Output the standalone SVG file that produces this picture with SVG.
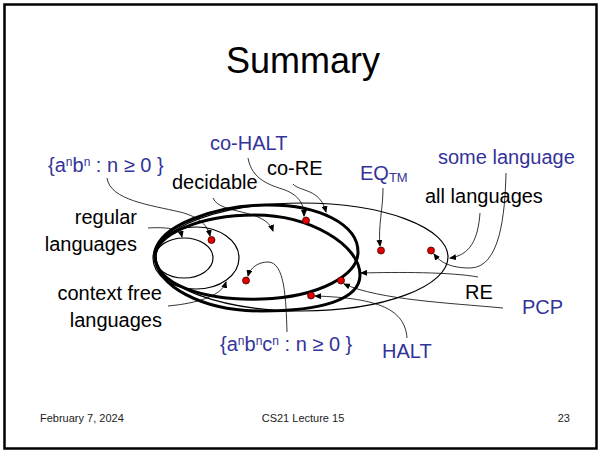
<svg xmlns="http://www.w3.org/2000/svg" width="601" height="452" viewBox="0 0 601 452">
<defs>
<marker id="arr" markerWidth="7" markerHeight="6" refX="6" refY="3" orient="auto" markerUnits="userSpaceOnUse">
<path d="M0,0 L7,3 L0,6 Z" fill="#000"/>
</marker>
<style>
text{font-family:"Liberation Sans",Arial,sans-serif;}
.lbl{font-size:20px;fill:#000;}
.blue{font-size:20px;fill:#333399;}
.foot{font-size:11px;fill:#222;}
.set{fill:none;stroke:#000;}
.thin{stroke-width:1.2;}
.thick{stroke-width:3;}
.dot{fill:#e00000;stroke:#400;stroke-width:0.8;}
.con{fill:none;stroke:#000;stroke-width:0.8;marker-end:url(#arr);}
</style>
</defs>
<rect x="0" y="0" width="601" height="452" fill="#fff"/>
<rect x="4.5" y="4.5" width="592" height="444" fill="none" stroke="#000" stroke-width="2.5"/>
<text x="303" y="73" text-anchor="middle" style="font-size:36px">Summary</text>

<g id="all-languages">
<ellipse class="set thin" cx="302" cy="257" rx="146" ry="54"/>
</g>
<g id="co-RE">
<path class="set thick" d="M155,252 C160,225 215,206 265,205 C320,204 358,225 358,252 C358,275 320,297 262,299 C205,301 152,285 155,252 Z"/>
</g>
<g id="RE">
<path class="set thick" d="M155,258 C153,235 200,215 255,215 C310,215 360,245 360,275 C360,300 320,311 262,311 C200,311 157,285 155,258 Z"/>
</g>
<g id="context-free">
<ellipse class="set thin" cx="196" cy="258" rx="43" ry="31"/>
</g>
<g id="regular">
<ellipse class="set thin" cx="184" cy="258" rx="29" ry="20"/>
</g>

<g id="connectors">
<path class="con" d="M107,178 C110,200 150,205 180,212 C200,217 208,226 210,236"/>
<path class="con" d="M248,158 C252,180 270,185 285,190 C300,196 304,205 304,216"/>
<path class="con" d="M293,184 C300,192 320,188 326,212"/>
<path class="con" d="M213,198 C220,215 265,208 273,231"/>
<path class="con" d="M148,228 C165,227 180,228 182,237"/>
<path class="con" d="M168,306 C200,303 222,295 226,282"/>
<path class="con" d="M287,332 C286,300 285,262 268,262 C258,262 250,268 248,276"/>
<path class="con" d="M383,188 C383,210 378,225 380,246"/>
<path class="con" d="M480,213 C478,240 470,255 450,258"/>
<path class="con" d="M506,173 C505,215 500,268 470,268 C450,268 440,262 434,254"/>
<path class="con" d="M478,277 C450,272 400,272 361,273"/>
<path class="con" d="M503,308 C450,303 380,300 344,284"/>
<path class="con" d="M407,338 C405,310 380,298 315,296"/>
</g>

<g id="anbn"><circle class="dot" cx="211.5" cy="240" r="3.5"/>
<text class="blue" x="48" y="172">{a<tspan style="font-size:12px" dy="-6">n</tspan><tspan dy="6">b</tspan><tspan style="font-size:12px" dy="-6">n</tspan><tspan dy="6"> : n ≥ 0 }</tspan></text></g>
<g id="co-HALT"><circle class="dot" cx="306" cy="220.5" r="3.5"/>
<text class="blue" x="210" y="150">co-HALT</text></g>
<g id="EQTM"><circle class="dot" cx="381" cy="250.5" r="3.5"/>
<text class="blue" x="360" y="180">EQ<tspan style="font-size:13px" dy="2">TM</tspan></text></g>
<g id="some-language"><circle class="dot" cx="431" cy="250.5" r="3.5"/>
<text class="blue" x="438" y="164">some language</text></g>
<g id="PCP"><circle class="dot" cx="341" cy="280.5" r="3.5"/>
<text class="blue" x="522" y="314">PCP</text></g>
<g id="HALT"><circle class="dot" cx="311" cy="295.5" r="3.5"/>
<text class="blue" x="382" y="358">HALT</text></g>
<g id="anbncn"><circle class="dot" cx="246" cy="280.5" r="3.5"/>
<text class="blue" x="220" y="351">{a<tspan style="font-size:12px" dy="-6">n</tspan><tspan dy="6">b</tspan><tspan style="font-size:12px" dy="-6">n</tspan><tspan dy="6">c</tspan><tspan style="font-size:12px" dy="-6">n</tspan><tspan dy="6"> : n ≥ 0 }</tspan></text></g>

<g id="label-decidable"><text class="lbl" x="172" y="189">decidable</text></g>
<g id="label-co-RE"><text class="lbl" x="267" y="175">co-RE</text></g>
<g id="label-all"><text class="lbl" x="425" y="203">all languages</text></g>
<g id="label-RE"><text class="lbl" x="465" y="299">RE</text></g>
<g id="label-regular"><text class="lbl" text-anchor="end" x="137" y="224">regular</text><text class="lbl" text-anchor="end" x="137" y="251">languages</text></g>
<g id="label-cf"><text class="lbl" text-anchor="end" x="162" y="300">context free</text><text class="lbl" text-anchor="end" x="162" y="327">languages</text></g>

<g id="footer">
<text class="foot" x="40" y="422">February 7, 2024</text>
<text class="foot" x="303" y="422" text-anchor="middle">CS21 Lecture 15</text>
<text class="foot" x="570" y="422" text-anchor="end">23</text>
</g>
</svg>
